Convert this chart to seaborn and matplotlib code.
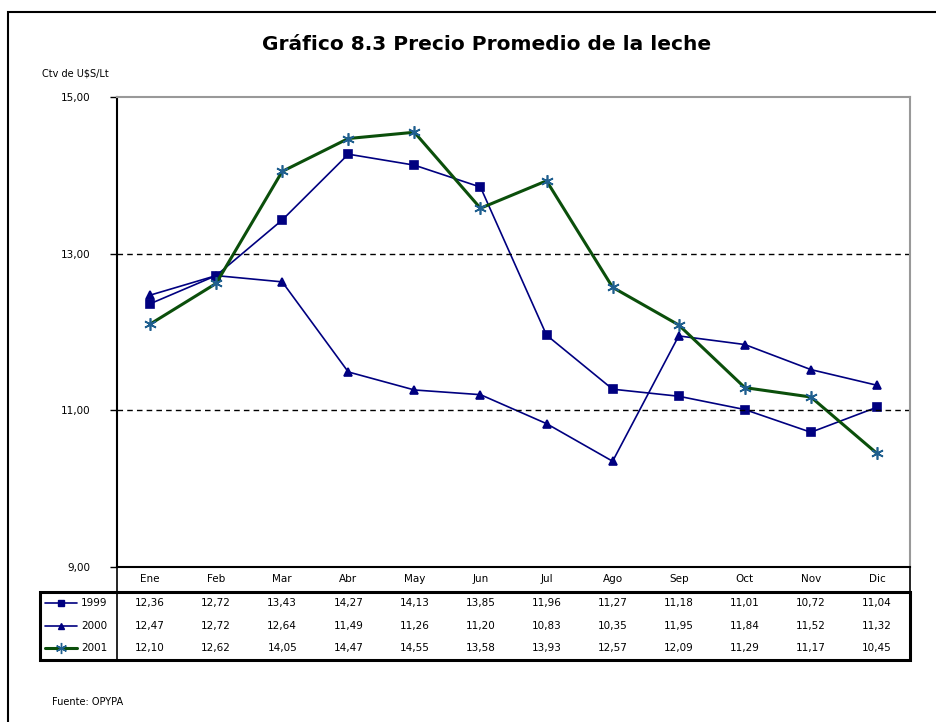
import numpy as np
import pandas as pd
import seaborn as sns
import matplotlib
matplotlib.use("Agg")
from matplotlib import pyplot as plt
from matplotlib.patches import Rectangle
from matplotlib.lines import Line2D

meses = ["Ene", "Feb", "Mar", "Abr", "May", "Jun", "Jul", "Ago", "Sep", "Oct", "Nov", "Dic"]
v1999 = [12.36, 12.72, 13.43, 14.27, 14.13, 13.85, 11.96, 11.27, 11.18, 11.01, 10.72, 11.04]
v2000 = [12.47, 12.72, 12.64, 11.49, 11.26, 11.20, 10.83, 10.35, 11.95, 11.84, 11.52, 11.32]
v2001 = [12.10, 12.62, 14.05, 14.47, 14.55, 13.58, 13.93, 12.57, 12.09, 11.29, 11.17, 10.45]
years = ["1999", "2000", "2001"]
yticks = [9, 11, 13, 15]

sns.set_style("white")
plt.rcParams["font.family"] = ["DejaVu Sans"]
plt.rcParams["text.color"] = "black"
plt.rcParams["ytick.color"] = "black"
plt.rcParams["ytick.labelcolor"] = "black"

fig = plt.figure(figsize=(9.36, 7.22), dpi=100)
ax = fig.add_axes([117/936, 1-567/722, 793/936, 470/722])

# estilos por serie
estilos = {
    "1999": dict(color="#000080", lw=1.2, marker="s", ms=6, mfc="#000080", mec="#000080"),
    "2000": dict(color="#000080", lw=1.2, marker="^", ms=6, mfc="#000080", mec="#000080"),
    "2001": dict(color="#0b4f0b", lw=2.2, marker=(6, 2, 0), ms=9, mfc="#1f5f8f", mec="#1f5f8f"),
}
series = {"1999": v1999, "2000": v2000, "2001": v2001}

for yr in years:
    st = estilos[yr]
    sns.lineplot(x=np.arange(len(meses)), y=series[yr], ax=ax, color=st["color"], lw=st["lw"],
                 marker=st["marker"], markersize=st["ms"], markerfacecolor=st["mfc"],
                 markeredgecolor=st["mec"], markeredgewidth=1.2)

ax.set_xlim(-0.5, 11.5)
ax.set_ylim(9, 15)
ax.set_yticks(yticks)
ax.set_yticklabels([f"{t:.2f}".replace(".", ",") for t in yticks], fontsize=7.5)
ax.set_xticks([])
ax.tick_params(axis="y", direction="out", length=5, width=1, color="black", pad=14, left=True)
for t in [11, 13]:
    ax.axhline(t, color="black", ls=(0, (4, 3)), lw=1)
for s in ["top", "right"]:
    ax.spines[s].set_color("#999999")
    ax.spines[s].set_linewidth(1.5)
ax.spines["left"].set_color("black")
ax.spines["left"].set_linewidth(1.5)
ax.spines["bottom"].set_color("black")
ax.spines["bottom"].set_linewidth(1.5)
ax.set_xlabel("")
ax.set_ylabel("")

# tabla de datos debajo
trans = ax.get_xaxis_transform()
h = 470.0
y_head = -12/h
y_rows = [-36/h, -59/h, -81/h]
for i, m in enumerate(meses):
    ax.text(i, y_head, m, transform=trans, ha="center", va="center", fontsize=7.5, clip_on=False)
for r, yr in enumerate(years):
    for i, v in enumerate(series[yr]):
        ax.text(i, y_rows[r], f"{v:.2f}".replace(".", ","), transform=trans, ha="center",
                va="center", fontsize=7.5, clip_on=False)

ta = ax.transAxes
x_leg = -77/793
ax.add_patch(Rectangle((0, -25/h), 1, 25/h, transform=ta, fill=False, ec="black", lw=1.2, clip_on=False))
ax.add_patch(Rectangle((x_leg, -93/h), 1 - x_leg, 68/h, transform=ta, fill=False, ec="black", lw=2.2, clip_on=False))
ax.add_line(Line2D([0, 0], [-93/h, -25/h], transform=ta, color="black", lw=1.2, clip_on=False))

for r, yr in enumerate(years):
    st = estilos[yr]
    ax.add_line(Line2D([-72/793, -40/793], [y_rows[r]] * 2, transform=ta, color=st["color"], lw=st["lw"],
                       clip_on=False))
    ax.add_line(Line2D([-56/793], [y_rows[r]], transform=ta, marker=st["marker"], ms=st["ms"] - 1,
                       mfc=st["mfc"], mec=st["mec"], color=st["color"], clip_on=False))
    ax.text(-36/793, y_rows[r], yr, transform=ta, ha="left", va="center", fontsize=7.5, clip_on=False)

fig.text(487/936, 1-45/722, "Gráfico 8.3 Precio Promedio de la leche", ha="center", va="center",
         fontsize=14.5, fontweight="bold")
fig.text(42/936, 1-73/722, "Ctv de U$S/Lt", ha="left", va="center", fontsize=7)
fig.text(52/936, 1-702/722, "Fuente: OPYPA", ha="left", va="center", fontsize=7)

# marco exterior
fig.add_artist(Rectangle((8/936, -0.05), 1.0, 1-12/722 + 0.05, transform=fig.transFigure,
                         fill=False, ec="black", lw=1.5))

fig.savefig("out.png", dpi=100)
